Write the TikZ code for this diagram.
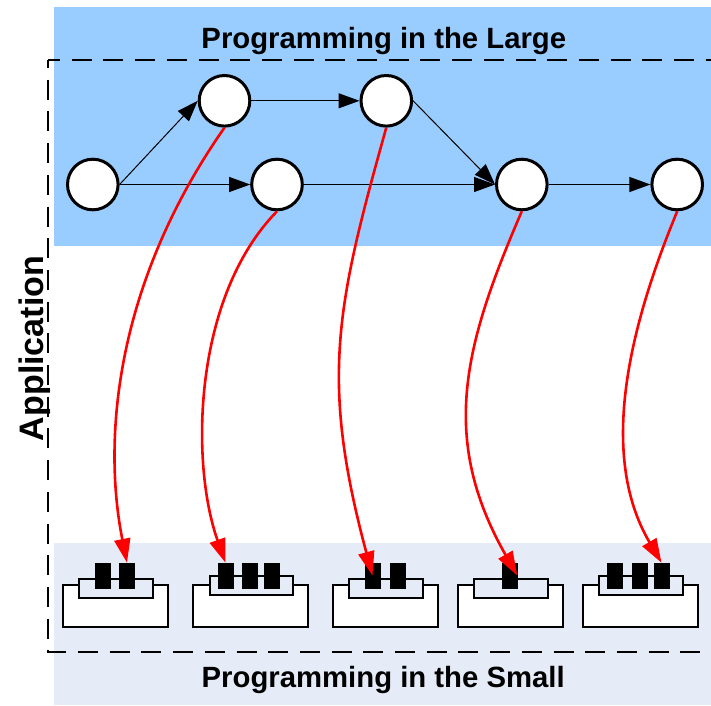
\documentclass[tikz,border=0pt]{standalone}
\usepackage{fontspec}
\setmainfont{Liberation Sans}
\usetikzlibrary{arrows.meta}
\definecolor{largeband}{RGB}{153,204,255}
\definecolor{smallband}{RGB}{230,236,247}
\definecolor{linkred}{RGB}{255,0,0}
\tikzset{
  task/.style={circle, draw=black, fill=white, line width=3pt, minimum size=50.6pt, inner sep=0pt},
  flow/.style={line width=1pt, -{Triangle[length=21pt,width=15pt]}},
  impl/.style={draw=linkred, line width=2.6pt, -{Triangle[length=24pt,width=16pt]}, linkred},
  body/.style={draw=black, fill=white, line width=2.4pt},
  socket/.style={draw=black, fill=smallband, line width=2.4pt},
  pin/.style={rectangle, fill=black, draw=black, line width=0.6pt, minimum width=15pt, minimum height=25pt, inner sep=0pt},
  frame/.style={draw=black, line width=2.7pt, dash pattern=on 20pt off 11.7pt},
  heading/.style={font=\bfseries\fontsize{29.3}{34}\selectfont, anchor=base, inner sep=0pt}
}
\begin{document}
\begin{tikzpicture}[x=1pt, y=-1pt]
\useasboundingbox (0,0) rectangle (711,705);
\fill[white] (0,0) rectangle (711,705);

% layers
\fill[largeband] (54,7) rectangle (711,246);
\fill[smallband] (54,543) rectangle (711,705);

% application frame (open on the right)
\coordinate (fr) at (48,60);
\draw[frame, dash phase=8pt] (fr) -- (711,60);
\draw[frame, dash phase=12pt] (fr) -- (48,652) -- (711,652);

% coarse-grained tasks
\node[task] (n1) at (92.8,184.5) {};
\node[task] (n2) at (224.5,100.8) {};
\node[task] (n3) at (277,184.5) {};
\node[task] (n4) at (386.3,100.8) {};
\node[task] (n5) at (521.8,184.5) {};
\node[task] (n6) at (677.2,184.5) {};

\draw[flow] (n1.east) -- (n2.west);
\draw[flow] (n1.east) -- (n3.west);
\draw[flow] (n2.east) -- (n4.west);
\draw[flow] (n4.east) -- (n5.west);
\draw[flow] (n3.east) -- (n5.west);
\draw[flow] (n5.east) -- (n6.west);

% components
\draw[body]   (63,585) rectangle (168,627);
\draw[socket] (79,579) rectangle (153,598);
\node[pin] (b11) at (102.5,575.5) {};
\node[pin] (b12) at (127,575.5) {};

\draw[body]   (193,585) rectangle (308,627);
\draw[socket] (210,576) rectangle (293,595);
\node[pin] (b21) at (225.5,575.5) {};
\node[pin] (b22) at (249.5,575.5) {};
\node[pin] (b23) at (271.5,575.5) {};

\draw[body]   (333,585) rectangle (438,627);
\draw[socket] (349,579) rectangle (423,598);
\node[pin] (b31) at (372.5,575.5) {};
\node[pin] (b32) at (397.5,575.5) {};

\draw[body]   (458,585) rectangle (563,627);
\draw[socket] (474,579) rectangle (548,598);
\node[pin] (b41) at (509.5,575.5) {};

\draw[body]   (583,585) rectangle (698,627);
\draw[socket] (599,576) rectangle (683,595);
\node[pin] (b51) at (614.5,575.5) {};
\node[pin] (b52) at (639.5,575.5) {};
\node[pin] (b53) at (661.5,575.5) {};

% mapping of tasks onto components
\draw[impl] (n2.south) .. controls (113,287) and (103,443) .. (b12.north);
\draw[impl] (n3.south) .. controls (193,297) and (190,463) .. (b21.north);
\draw[impl] (n4.south) .. controls (336,307) and (320,380) .. (b31.center);
\draw[impl] (n5.south) .. controls (464,345) and (439,438) .. (b41.east);
\draw[impl] (n6.south) .. controls (631,323) and (597,453) .. (b53.north);

% labels
\node[heading] (large) at (383.8,48) {Programming in the Large};
\node[heading] (small) at (383.2,687) {Programming in the Small};
\node[font=\bfseries\fontsize{34}{40}\selectfont, anchor=base, inner sep=0pt, rotate=90] (app) at (43,348.5) {Application};
\end{tikzpicture}
\end{document}
